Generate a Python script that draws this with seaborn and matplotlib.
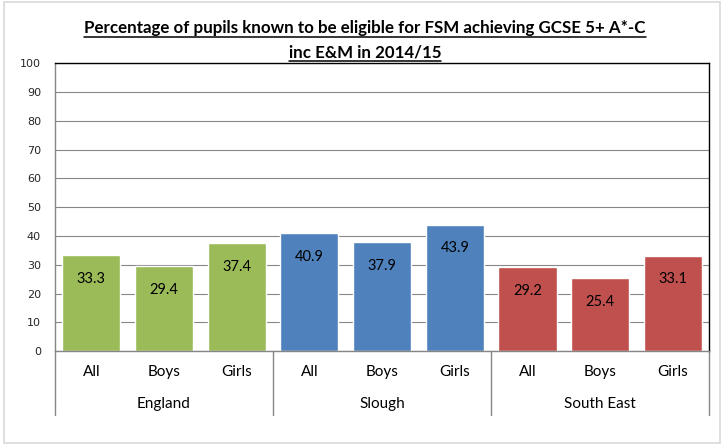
import numpy as np
import pandas as pd
import matplotlib
matplotlib.use("Agg")
import matplotlib.pyplot as plt
import seaborn as sns
from matplotlib.patches import Rectangle
from matplotlib.lines import Line2D

# data
regions = ["England", "Slough", "South East"]
groups = ["All", "Boys", "Girls"]
england = [33.3, 29.4, 37.4]
slough = [40.9, 37.9, 43.9]
south_east = [29.2, 25.4, 33.1]
title = "Percentage of pupils known to be eligible for FSM achieving GCSE 5+ A*-C\ninc E&M in 2014/15"

COLORS = {"England": "#9BBB59", "Slough": "#4F81BD", "South East": "#C0504D"}
FONT = ["Lato", "DejaVu Sans"]

rows = []
for reg, vals in zip(regions, [england, slough, south_east]):
    for g, v in zip(groups, vals):
        rows.append({"key": f"{reg}|{g}", "region": reg, "group": g, "value": v})
df = pd.DataFrame(rows)

sns.set_style("white")
plt.rcParams["font.family"] = FONT

fig = plt.figure(figsize=(7.23, 4.45), dpi=100)
ax = fig.add_axes([0.076, 0.211, 0.905, 0.647])

sns.barplot(data=df, x="key", y="value", hue="region", palette=COLORS,
            dodge=False, width=0.8, legend=False, ax=ax, saturation=1)

ax.set_ylim(0, 100)
ax.set_yticks(range(0, 101, 10))
ax.set_yticklabels([str(t) for t in range(0, 101, 10)], fontsize=8,
                   family=["DejaVu Sans"])
ax.tick_params(axis="y", length=4, color="#868686", pad=6)
ax.set_xlim(-0.5, len(df) - 0.5)
ax.set_xticks([])
ax.set_xlabel("")
ax.set_ylabel("")
ax.grid(axis="y", color="#868686", linewidth=0.8)
ax.set_axisbelow(True)
for s in ["top", "right"]:
    ax.spines[s].set_color("#000000")
    ax.spines[s].set_linewidth(1.0)
for s in ["left", "bottom"]:
    ax.spines[s].set_color("#868686")
    ax.spines[s].set_linewidth(1.0)

# value labels inside the bars
for i, v in enumerate(df["value"]):
    ax.annotate(f"{v:.1f}", (i, v), xytext=(0, -17), textcoords="offset points",
                ha="center", va="center", fontsize=10.5, color="#000000")

# two-level category axis
trans = ax.get_xaxis_transform()
for i, g in enumerate(df["group"]):
    ax.text(i, -0.073, g, transform=trans, ha="center", va="center",
            fontsize=11, color="#000000")
for j, reg in enumerate(regions):
    ax.text(j * 3 + 1, -0.184, reg, transform=trans, ha="center", va="center",
            fontsize=11, color="#000000")
for j in range(len(regions) + 1):
    ax.add_line(Line2D([j * 3 - 0.5, j * 3 - 0.5], [0, -0.222], transform=trans,
                       color="#868686", linewidth=1.0, clip_on=False))

# title with underline
fig.canvas.draw()
r = fig.canvas.get_renderer()
for line_txt, yc in zip(title.split("\n"), [0.938, 0.883]):
    tl = fig.text(0.505, yc, line_txt, ha="center", va="center", fontsize=12.2,
                  fontweight="bold", color="#000000")
    bb = tl.get_window_extent(renderer=r).transformed(fig.transFigure.inverted())
    fig.add_artist(Line2D([bb.x0, bb.x1], [bb.y0 - 0.003, bb.y0 - 0.003],
                          transform=fig.transFigure, color="#000000", linewidth=1.1))

# outer chart border
fig.add_artist(Rectangle((0.006, 0.005), 0.99, 0.99, transform=fig.transFigure,
                         fill=False, edgecolor="#D9D9D9", linewidth=1.2))

fig.savefig("out.png", dpi=100)
